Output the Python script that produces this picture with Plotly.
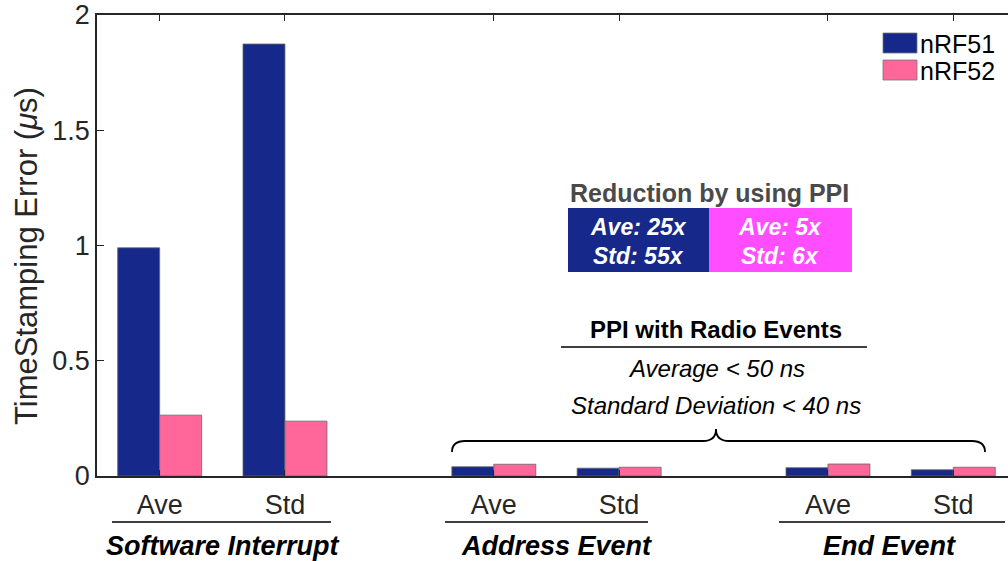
import plotly.graph_objects as go

# ---------------- data ----------------
groups = ["Software Interrupt", "Address Event", "End Event"]
metrics = ["Ave", "Std"]
series_names = ["nRF51", "nRF52"]
nrf51 = [0.990, 1.874, 0.040, 0.034, 0.036, 0.027]
nrf52 = [0.264, 0.238, 0.051, 0.038, 0.052, 0.038]
y_ticks = [0, 0.5, 1, 1.5, 2]
y_ticktext = ["0", "0.5", "1", "1.5", "2"]

# ---------------- styles ----------------
BLUE = "#16298A"
PINK = "#FF6699"
MAGENTA = "#FF4DFF"
AXIS = "#262626"
FONT = "Liberation Sans, Arial, sans-serif"

W_FIG, H_FIG = 1008, 561
L, R, T, B = 97, 1008, 15, 476
PW, PH = R - L, B - T


def px(xp):
    return (xp - L) / PW


def py(yp):
    return (B - yp) / PH


GROUP_STEP = len(metrics) + 2 / 3
xpos = [1 + g * GROUP_STEP + i for g in range(len(groups)) for i in range(len(metrics))]
ticktext = [m for g in groups for m in metrics]

fig = go.Figure()
for name, vals, col in zip(series_names, [nrf51, nrf52], [BLUE, PINK]):
    fig.add_trace(go.Bar(
        x=xpos, y=vals, name=name, showlegend=False,
        marker=dict(color=col, line=dict(color="#666666", width=0.8)),
    ))

shapes = []
annotations = []

# custom legend
for i, (name, col) in enumerate(zip(series_names, [BLUE, PINK])):
    y0 = 33 + i * 27
    shapes.append(dict(type="rect", xref="paper", yref="paper",
                       x0=px(883), x1=px(917), y0=py(y0), y1=py(y0 + 20),
                       fillcolor=col, line=dict(color="#777777", width=0.8)))
    annotations.append(dict(text=name, xref="paper", yref="paper",
                            x=px(918), y=py(y0 + 11), xanchor="left", yanchor="middle",
                            showarrow=False, font=dict(family=FONT, size=25, color="#000000")))

# Reduction box
annotations.append(dict(text="<b>Reduction by using PPI</b>", xref="paper", yref="paper",
                        x=px(709), y=py(193), xanchor="center", yanchor="middle",
                        showarrow=False, font=dict(family=FONT, size=25, color="#4A4A4A")))
shapes.append(dict(type="rect", xref="paper", yref="paper", x0=px(568), x1=px(709),
                   y0=py(272), y1=py(208), fillcolor=BLUE, line=dict(width=0)))
shapes.append(dict(type="rect", xref="paper", yref="paper", x0=px(709), x1=px(852),
                   y0=py(272), y1=py(208), fillcolor=MAGENTA, line=dict(width=0)))
for cx, lines in [(638, ["Ave: 25x", "Std: 55x"]), (780, ["Ave: 5x", "Std: 6x"])]:
    for j, t in enumerate(lines):
        annotations.append(dict(text="<b><i>%s</i></b>" % t, xref="paper", yref="paper",
                                x=px(cx), y=py(227 + 29 * j), xanchor="center", yanchor="middle",
                                showarrow=False, font=dict(family=FONT, size=23, color="white")))

# PPI with radio events block
annotations.append(dict(text="<b>PPI with Radio Events</b>", xref="paper", yref="paper",
                        x=px(716), y=py(329), xanchor="center", yanchor="middle",
                        showarrow=False, font=dict(family=FONT, size=24, color="#000000")))
shapes.append(dict(type="line", xref="paper", yref="paper", x0=px(561), x1=px(867),
                   y0=py(347), y1=py(347), line=dict(color="#000000", width=1.5)))
for t, yy in [("Average < 50 ns", 368), ("Standard Deviation < 40 ns", 405)]:
    annotations.append(dict(text="<i>%s</i>" % t.replace("<", "&lt;"), xref="paper", yref="paper",
                            x=px(716), y=py(yy), xanchor="center", yanchor="middle",
                            showarrow=False, font=dict(family=FONT, size=24, color="#000000")))

# curly bracket
bx0, bx1, bm, by_end, by_h, by_top, r = 452, 985, 716, 452, 441, 429, 13
path = (f"M {px(bx0)},{py(by_end)} Q {px(bx0)},{py(by_h)} {px(bx0 + r)},{py(by_h)} "
        f"L {px(bm - r)},{py(by_h)} Q {px(bm)},{py(by_h)} {px(bm)},{py(by_top)} "
        f"Q {px(bm)},{py(by_h)} {px(bm + r)},{py(by_h)} "
        f"L {px(bx1 - r)},{py(by_h)} Q {px(bx1)},{py(by_h)} {px(bx1)},{py(by_end)}")
shapes.append(dict(type="path", xref="paper", yref="paper", path=path,
                   line=dict(color="#000000", width=1.8)))

# group underlines and labels
under = [(112, 331), (445, 648), (779, 1005)]
centers = [223, 556, 889]
for (a, b_), c, g in zip(under, centers, groups):
    shapes.append(dict(type="line", xref="paper", yref="paper", x0=px(a), x1=px(b_),
                       y0=py(522), y1=py(522), line=dict(color="#000000", width=1.5)))
    annotations.append(dict(text="<b><i>%s</i></b>" % g, xref="paper", yref="paper",
                            x=px(c), y=py(546), xanchor="center", yanchor="middle",
                            showarrow=False, font=dict(family=FONT, size=27, color="#000000")))

# y-axis title
annotations.append(dict(text="TimeStamping Error (<i>μ</i>s)", xref="paper", yref="paper",
                        x=px(26), y=py(256), xanchor="center", yanchor="middle", textangle=-90,
                        showarrow=False, font=dict(family=FONT, size=31, color=AXIS)))

fig.update_layout(
    width=W_FIG, height=H_FIG,
    margin=dict(l=L, r=W_FIG - R, t=T, b=H_FIG - B, pad=0),
    paper_bgcolor="white", plot_bgcolor="white",
    barmode="group", bargap=0.33, bargroupgap=0,
    shapes=shapes, annotations=annotations,
    font=dict(family=FONT, color=AXIS),
    xaxis=dict(range=[0.5, 7.77], tickvals=xpos, ticktext=ticktext, ticks="inside", ticklen=6,
               tickcolor=AXIS, showline=True, linecolor=AXIS, linewidth=1.5, mirror="ticks",
               showgrid=False, zeroline=False, ticklabelstandoff=4,
               tickfont=dict(family=FONT, size=27, color=AXIS)),
    yaxis=dict(range=[0, 2], tickvals=y_ticks, ticktext=y_ticktext, ticks="inside", ticklen=7,
               tickcolor=AXIS, showline=True, linecolor=AXIS, linewidth=1.5, mirror=False,
               showgrid=False, zeroline=False,
               tickfont=dict(family=FONT, size=27, color=AXIS)),
)

fig.write_html("out.html")
